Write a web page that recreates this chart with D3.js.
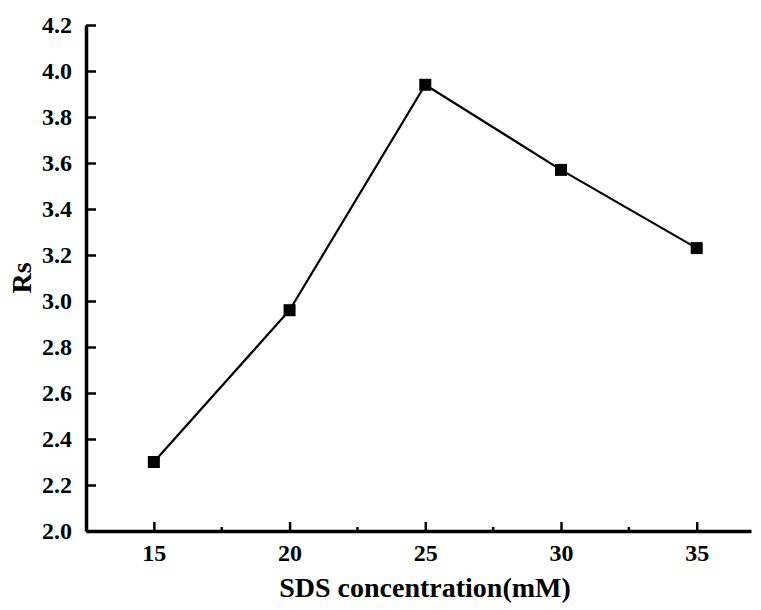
<!DOCTYPE html>
<html>
<head>
<meta charset="utf-8">
<script src="https://cdn.jsdelivr.net/npm/d3@7"></script>
<style>
	body { margin: 0; background: #fff; }
</style>
</head>
<body>
<svg id="chart" width="761" height="610"></svg>
<script>
// SDS concentration (mM) and resolution Rs
const concentrations = [15, 20, 25, 30, 35];
const rsValues = [2.30, 2.96, 3.94, 3.57, 3.23];
const xTicks = [15, 20, 25, 30, 35];
const xMinorTicks = [17.5, 22.5, 27.5, 32.5];
const yTicks = [2.0, 2.2, 2.4, 2.6, 2.8, 3.0, 3.2, 3.4, 3.6, 3.8, 4.0, 4.2];

const font = "'Liberation Serif', 'Times New Roman', Times, 'DejaVu Serif', serif";

const svg = d3.select("#chart");

const x = d3.scaleLinear().domain([12.5, 37]).range([86, 751]);
const y = d3.scaleLinear().domain([2.0, 4.2]).range([531, 25]);

// minor ticks on x axis
svg.append("g")
	.selectAll("line")
	.data(xMinorTicks)
	.join("line")
	.attr("x1", d => x(d)).attr("x2", d => x(d))
	.attr("y1", y(2.0)).attr("y2", y(2.0) - 4)
	.attr("stroke", "#000")
	.attr("stroke-width", 2.5);

// x axis, ticks pointing in
const xAxis = svg.append("g")
	.attr("transform", `translate(0,${y(2.0)})`)
	.call(d3.axisBottom(x).tickValues(xTicks).tickFormat(d3.format("d"))
		.tickSizeInner(-9).tickSizeOuter(0).tickPadding(13));
xAxis.attr("font-family", font).attr("font-weight", "bold").attr("font-size", 24);
xAxis.select(".domain").attr("stroke-width", 3.5);
xAxis.selectAll(".tick line").attr("stroke-width", 2.5);

// y axis
const yAxis = svg.append("g")
	.attr("transform", `translate(${x(12.5)},0)`)
	.call(d3.axisLeft(y).tickValues(yTicks).tickFormat(d3.format(".1f"))
		.tickSizeInner(-10).tickSizeOuter(0).tickPadding(14));
yAxis.attr("font-family", font).attr("font-weight", "bold").attr("font-size", 24);
yAxis.select(".domain").attr("stroke-width", 3.5);
yAxis.selectAll(".tick line").attr("stroke-width", 2.5);

// line
const line = d3.line()
	.x((d, i) => x(concentrations[i]))
	.y(d => y(d));

svg.append("path")
	.datum(rsValues)
	.attr("d", line)
	.attr("fill", "none")
	.attr("stroke", "#000")
	.attr("stroke-width", 2.2);

// square markers
const size = 12;
svg.append("g")
	.selectAll("rect")
	.data(rsValues)
	.join("rect")
	.attr("x", (d, i) => x(concentrations[i]) - size / 2)
	.attr("y", d => y(d) - size / 2)
	.attr("width", size)
	.attr("height", size)
	.attr("fill", "#000");

// axis titles
svg.append("text")
	.attr("x", 425)
	.attr("y", 597)
	.attr("text-anchor", "middle")
	.attr("font-family", font)
	.attr("font-weight", "bold")
	.attr("font-size", 28)
	.text("SDS concentration(mM)");

svg.append("text")
	.attr("transform", `translate(31,${y(3.1)}) rotate(-90)`)
	.attr("text-anchor", "middle")
	.attr("font-family", font)
	.attr("font-weight", "bold")
	.attr("font-size", 28)
	.text("Rs");
</script>
</body>
</html>
